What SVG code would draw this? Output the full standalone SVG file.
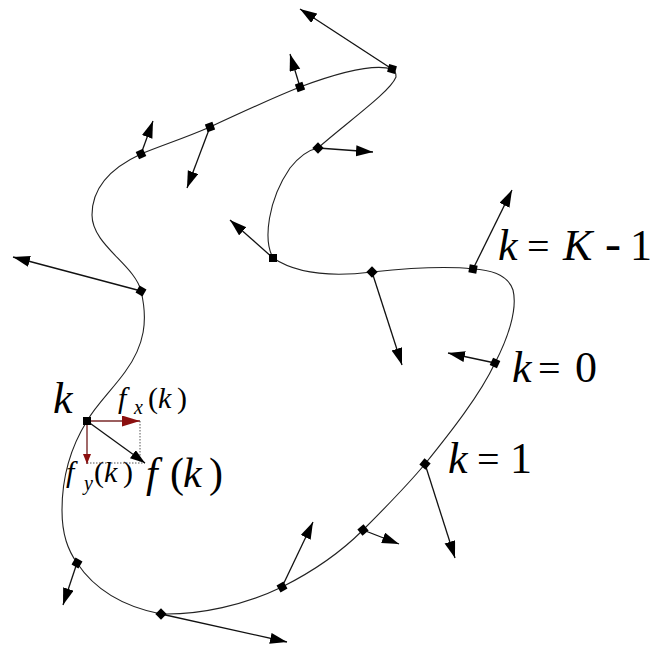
<svg xmlns="http://www.w3.org/2000/svg" width="655" height="645" viewBox="0 0 655 645">
<style>
.curve{fill:none;stroke:#222;stroke-width:1.1}
.force{stroke:#111;stroke-width:1.3;fill:none;marker-end:url(#ah)}
.red{stroke:#7a2a2a;stroke-width:1.4;fill:none}
.dot{stroke:#555;stroke-width:1;stroke-dasharray:1.5 1.5;fill:none}
.node{fill:#000}
.it{font-style:italic}
</style>
<defs>
<marker id="ah" markerUnits="userSpaceOnUse" markerWidth="18" markerHeight="12" refX="17" refY="5.5" orient="auto">
<path d="M0,0 L17,5.5 L0,11 z" fill="#000"/>
</marker>
<marker id="ahs" markerUnits="userSpaceOnUse" markerWidth="16" markerHeight="11" refX="15" refY="5" orient="auto">
<path d="M0,0 L15,5 L0,10 z" fill="#000"/>
</marker>
<marker id="rh" markerUnits="userSpaceOnUse" markerWidth="19" markerHeight="12" refX="18" refY="5.5" orient="auto">
<path d="M0,0 L18,5.5 L0,11 z" fill="#8b0f0f"/>
</marker>
<marker id="rhs" markerUnits="userSpaceOnUse" markerWidth="11" markerHeight="9" refX="10" refY="4" orient="auto">
<path d="M0,0 L10,4 L0,8 z" fill="#8b0f0f"/>
</marker>
</defs>
<rect width="655" height="645" fill="#fff"/>

<g id="contour">
<path class="curve" d="M392,69 C375,64 340,72 300,87 C270,99 240,113 210,127 C185,138 160,146 141,154 C115,166 92,185 92,215 C92,245 135,265 141,291 C148,320 145,345 125,372 C112,390 96,405 87,421 C72,445 62,475 62,510 C62,535 68,550 77,563 C95,590 125,607 161,614 C200,615 245,605 282,587 C310,573 340,553 363,530 C385,508 405,488 425,464 C450,433 480,395 495,363 C507,340 518,310 513,290 C508,275 492,270 473,269 C447,266 410,268 372,272 C340,276 300,276 273,258 C263,240 268,200 290,168 C298,158 308,150 318,148 C350,120 390,92 396,77 Q396,70 392,69 Z"/>
</g>

<g id="connectors">
<line class="force" x1="392" y1="69" x2="300" y2="9"/>
<line class="force" x1="300" y1="87" x2="290" y2="54"/>
<line class="force" x1="210" y1="127" x2="187" y2="188"/>
<line class="force" x1="141" y1="154" x2="153" y2="121"/>
<line class="force" x1="141" y1="291" x2="13" y2="257"/>
<line class="force" x1="77" y1="563" x2="63" y2="605"/>
<line class="force" x1="161" y1="614" x2="287" y2="642"/>
<line class="force" x1="282" y1="587" x2="313" y2="522"/>
<line class="force" x1="363" y1="530" x2="399" y2="544"/>
<line class="force" x1="425" y1="464" x2="455" y2="558"/>
<line class="force" x1="495" y1="363" x2="448" y2="353"/>
<line class="force" x1="473" y1="269" x2="512" y2="190"/>
<line class="force" x1="372" y1="272" x2="402" y2="365"/>
<line class="force" x1="273" y1="258" x2="230" y2="220"/>
<line class="force" x1="318" y1="148" x2="373" y2="152"/>
<line class="dot" x1="140" y1="421" x2="140" y2="463"/>
<line class="dot" x1="87" y1="463" x2="145" y2="463"/>
<line class="red" x1="87" y1="421" x2="140" y2="421" marker-end="url(#rh)"/>
<line class="red" x1="87" y1="421" x2="87" y2="464" marker-end="url(#rhs)"/>
<line x1="87" y1="421" x2="145" y2="463" stroke="#111" stroke-width="1.3" marker-end="url(#ahs)"/>
</g>

<g id="n1"><rect class="node" x="388" y="65" width="8" height="8" transform="rotate(15 392 69)"/></g>
<g id="n2"><rect class="node" x="296" y="83" width="8" height="8" transform="rotate(-20 300 87)"/></g>
<g id="n3"><rect class="node" x="206" y="123" width="8" height="8" transform="rotate(-20 210 127)"/></g>
<g id="n4"><rect class="node" x="137" y="150" width="8" height="8" transform="rotate(-25 141 154)"/></g>
<g id="n5"><rect class="node" x="137" y="287" width="8" height="8" transform="rotate(30 141 291)"/></g>
<g id="n6"><rect class="node" x="83" y="417" width="8" height="8"/></g>
<g id="n7"><rect class="node" x="73" y="559" width="8" height="8" transform="rotate(30 77 563)"/></g>
<g id="n8"><rect class="node" x="157" y="610" width="8" height="8" transform="rotate(45 161 614)"/></g>
<g id="n9"><rect class="node" x="278" y="583" width="8" height="8" transform="rotate(-30 282 587)"/></g>
<g id="n10"><rect class="node" x="359" y="526" width="8" height="8" transform="rotate(-40 363 530)"/></g>
<g id="n11"><rect class="node" x="421" y="460" width="8" height="8" transform="rotate(-50 425 464)"/></g>
<g id="n12"><rect class="node" x="491" y="359" width="8" height="8" transform="rotate(-65 495 363)"/></g>
<g id="n13"><rect class="node" x="469" y="265" width="8" height="8" transform="rotate(10 473 269)"/></g>
<g id="n14"><rect class="node" x="368" y="268" width="8" height="8" transform="rotate(45 372 272)"/></g>
<g id="n15"><rect class="node" x="269" y="254" width="8" height="8"/></g>
<g id="n16"><rect class="node" x="314" y="144" width="8" height="8" transform="rotate(45 318 148)"/></g>

<g id="labels" font-family="'Liberation Serif','DejaVu Serif','Times New Roman',serif" fill="#000">
<g id="label-k">
<text x="53" y="413" font-size="44" class="it">k</text>
</g>
<g id="label-fx">
<text x="118" y="408" font-size="30" class="it">f</text>
<text x="134" y="414" font-size="20" class="it">x</text>
<text x="148" y="408" font-size="30">(</text>
<text x="158" y="408" font-size="30" class="it">k</text>
<text x="177" y="408" font-size="30">)</text>
</g>
<g id="label-fy">
<text x="66" y="482" font-size="30" class="it">f</text>
<text x="84" y="490" font-size="20" class="it">y</text>
<text x="94" y="482" font-size="30">(</text>
<text x="104" y="482" font-size="30" class="it">k</text>
<text x="123" y="482" font-size="30">)</text>
</g>
<g id="label-f">
<text x="146" y="487" font-size="42" class="it">f</text>
<text x="170" y="487" font-size="42">(</text>
<text x="183" y="487" font-size="42" class="it">k</text>
<text x="209" y="487" font-size="42">)</text>
</g>
<g id="label-kK1">
<text x="498" y="260" font-size="44" class="it">k</text>
<text x="527" y="260" font-size="40">=</text>
<text x="563" y="260" font-size="44" class="it">K</text>
<text x="605" y="260" font-size="48">-</text>
<text x="630" y="260" font-size="44">1</text>
</g>
<g id="label-k0">
<text x="512" y="382" font-size="44" class="it">k</text>
<text x="538" y="382" font-size="40">=</text>
<text x="575" y="382" font-size="44">0</text>
</g>
<g id="label-k1">
<text x="448" y="473" font-size="44" class="it">k</text>
<text x="477" y="473" font-size="40">=</text>
<text x="510" y="473" font-size="44">1</text>
</g>
</g>
</svg>
